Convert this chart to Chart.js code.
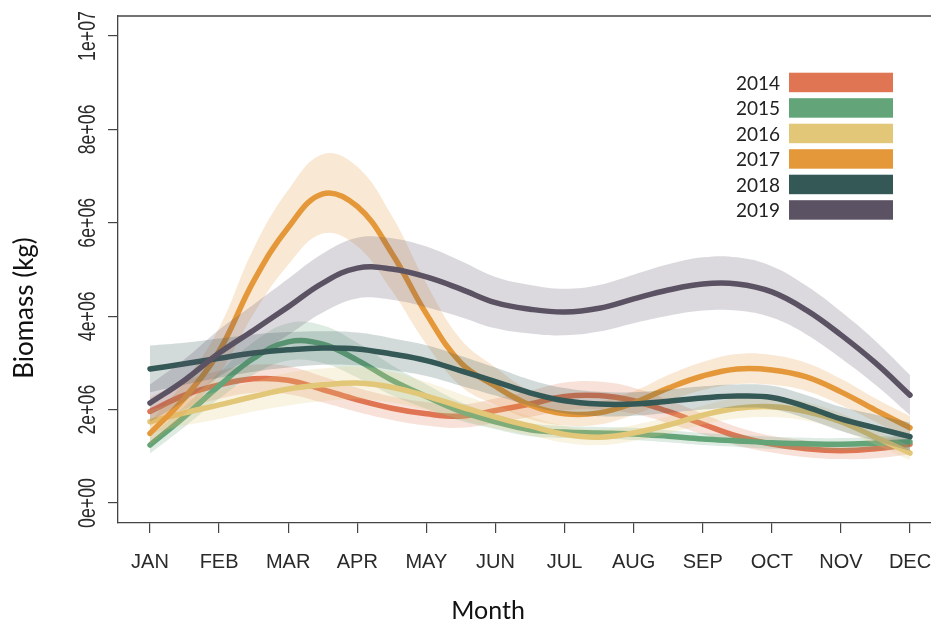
<!DOCTYPE html>
<html>
<head>
<meta charset="utf-8">
<script src="https://cdn.jsdelivr.net/npm/chart.js@4/dist/chart.umd.min.js"></script>
<style>
  html, body { margin: 0; padding: 0; background: #fff; overflow: hidden; }
  canvas { display: block; }
</style>
</head>
<body>
<canvas id="c" width="931" height="624"></canvas>
<script>
// month positions (half-month steps)
var months = [1, 1.5, 2, 2.5, 3, 3.5, 4, 4.5, 5, 5.5, 6, 6.5, 7, 7.5, 8, 8.5, 9, 9.5, 10, 10.5, 11, 11.5, 12];
var monthLabels = ['JAN', 'FEB', 'MAR', 'APR', 'MAY', 'JUN', 'JUL', 'AUG', 'SEP', 'OCT', 'NOV', 'DEC'];
var yTicks = [0, 2, 4, 6, 8, 10];
var yTickLabels = ['0e+00', '2e+06', '4e+06', '6e+06', '8e+06', '1e+07'];

var years = ['2014', '2015', '2016', '2017', '2018', '2019'];
var colors = ['#e07553', '#63a579', '#e2c778', '#e4983a', '#345856', '#5b5363'];

// biomass, millions of kg
var bio2014 = [1.96, 2.31, 2.53, 2.66, 2.63, 2.43, 2.21, 2.03, 1.91, 1.86, 1.98, 2.12, 2.28, 2.30, 2.19, 1.96, 1.69, 1.43, 1.26, 1.16, 1.12, 1.16, 1.26];
var bio2015 = [1.24, 1.85, 2.51, 3.10, 3.45, 3.40, 3.06, 2.63, 2.28, 1.96, 1.74, 1.57, 1.52, 1.50, 1.48, 1.43, 1.37, 1.33, 1.29, 1.27, 1.26, 1.28, 1.31];
var bio2016 = [1.74, 1.93, 2.10, 2.28, 2.44, 2.53, 2.57, 2.48, 2.29, 2.06, 1.84, 1.65, 1.47, 1.41, 1.50, 1.67, 1.88, 2.03, 2.06, 1.96, 1.74, 1.41, 1.07];
var bio2017 = [1.49, 2.25, 3.25, 4.75, 5.90, 6.62, 6.35, 5.35, 4.05, 3.00, 2.50, 2.10, 1.91, 1.93, 2.14, 2.46, 2.72, 2.87, 2.85, 2.70, 2.38, 1.99, 1.61];
var bio2018 = [2.87, 2.98, 3.10, 3.21, 3.28, 3.32, 3.30, 3.19, 3.05, 2.83, 2.60, 2.36, 2.19, 2.12, 2.12, 2.18, 2.25, 2.29, 2.26, 2.06, 1.80, 1.61, 1.42];
var bio2019 = [2.14, 2.63, 3.21, 3.70, 4.20, 4.71, 5.03, 5.01, 4.84, 4.58, 4.29, 4.15, 4.09, 4.17, 4.37, 4.56, 4.69, 4.69, 4.52, 4.13, 3.60, 3.00, 2.31];

// half width of the shaded band
var ci2014 = [0.30, 0.30, 0.30, 0.30, 0.30, 0.28, 0.26, 0.25, 0.25, 0.25, 0.26, 0.28, 0.30, 0.30, 0.28, 0.25, 0.22, 0.20, 0.18, 0.18, 0.18, 0.20, 0.22];
var ci2015 = [0.18, 0.22, 0.28, 0.35, 0.40, 0.40, 0.37, 0.32, 0.26, 0.20, 0.16, 0.14, 0.13, 0.13, 0.13, 0.13, 0.13, 0.13, 0.13, 0.13, 0.13, 0.14, 0.16];
var ci2016 = [0.25, 0.27, 0.30, 0.32, 0.35, 0.35, 0.35, 0.33, 0.30, 0.27, 0.24, 0.20, 0.18, 0.17, 0.17, 0.18, 0.20, 0.22, 0.22, 0.20, 0.18, 0.16, 0.15];
var ci2017 = [0.25, 0.35, 0.50, 0.70, 0.80, 0.85, 0.85, 0.80, 0.65, 0.50, 0.40, 0.30, 0.25, 0.25, 0.25, 0.28, 0.30, 0.32, 0.32, 0.30, 0.28, 0.25, 0.25];
var ci2018 = [0.50, 0.45, 0.42, 0.40, 0.38, 0.36, 0.35, 0.34, 0.33, 0.32, 0.30, 0.28, 0.27, 0.26, 0.25, 0.25, 0.25, 0.25, 0.25, 0.25, 0.26, 0.28, 0.30];
var ci2019 = [0.40, 0.45, 0.50, 0.55, 0.60, 0.63, 0.65, 0.66, 0.65, 0.60, 0.55, 0.52, 0.50, 0.50, 0.52, 0.55, 0.57, 0.57, 0.55, 0.52, 0.50, 0.47, 0.43];

var series = [bio2014, bio2015, bio2016, bio2017, bio2018, bio2019];
var bands = [ci2014, ci2015, ci2016, ci2017, ci2018, ci2019];

function hexA(hex, a) {
  var n = parseInt(hex.slice(1), 16);
  return 'rgba(' + (n >> 16) + ',' + ((n >> 8) & 255) + ',' + (n & 255) + ',' + a + ')';
}

var datasets = [];
years.forEach(function(yr, k) {
  var vals = series[k], ci = bands[k];
  var base = 100 - 10 * k;   // higher order is painted first
  datasets.push({
    label: yr + ' hi',
    data: months.map(function(m, i) { return { x: m, y: vals[i] + ci[i] }; }),
    borderWidth: 0, pointRadius: 0, fill: false, order: base, tension: 0.4
  });
  datasets.push({
    label: yr + ' lo',
    data: months.map(function(m, i) { return { x: m, y: vals[i] - ci[i] }; }),
    borderWidth: 0, pointRadius: 0, fill: '-1', order: base, tension: 0.4,
    backgroundColor: hexA(colors[k], 0.22)
  });
  datasets.push({
    label: yr,
    data: months.map(function(m, i) { return { x: m, y: vals[i] }; }),
    borderColor: colors[k], borderWidth: 5.5, borderCapStyle: 'round',
    pointRadius: 0, fill: false, order: base - 1, tension: 0.4
  });
});

var decor = {
  id: 'decor',
  afterDraw: function(chart) {
    var ctx = chart.ctx, a = chart.chartArea, ys = chart.scales.y;
    ctx.save();
    // top edge of the box
    ctx.strokeStyle = '#444';
    ctx.lineWidth = 1.3;
    ctx.beginPath();
    ctx.moveTo(a.left, a.top);
    ctx.lineTo(a.right + 2, a.top);
    ctx.stroke();

    // rotated y tick labels
    ctx.fillStyle = '#2a2a2a';
    ctx.font = '24px "Liberation Sans", Arial, sans-serif';
    ctx.textAlign = 'center';
    ctx.textBaseline = 'alphabetic';
    yTicks.forEach(function(v, i) {
      ctx.save();
      ctx.translate(95, ys.getPixelForValue(v));
      ctx.rotate(-Math.PI / 2);
      ctx.scale(0.74, 1);
      ctx.fillText(yTickLabels[i], 0, 0);
      ctx.restore();
    });

    // axis titles
    ctx.fillStyle = '#111';
    ctx.font = '25px Lato, sans-serif';
    ctx.fillText('Month', 488, 619);
    ctx.save();
    ctx.translate(33, 308);
    ctx.rotate(-Math.PI / 2);
    ctx.font = '26px Lato, sans-serif';
    ctx.fillText('Biomass (kg)', 0, 0);
    ctx.restore();

    // legend: year text then colour bar
    ctx.font = '19px Lato, sans-serif';
    ctx.textAlign = 'right';
    years.forEach(function(yr, k) {
      var y0 = 72.7 + k * 25.5;
      ctx.fillStyle = colors[k];
      ctx.fillRect(789, y0, 104, 19.5);
      ctx.fillStyle = '#222';
      ctx.fillText(yr, 780, y0 + 17);
    });
    ctx.restore();
  }
};

var chart = new Chart(document.getElementById('c'), {
  type: 'line',
  data: { datasets: datasets },
  options: {
    responsive: false,
    animation: false,
    devicePixelRatio: 1,
    layout: { padding: { top: 16, left: 0, right: 0, bottom: 0 } },
    plugins: { legend: { display: false }, tooltip: { enabled: false } },
    scales: {
      x: {
        type: 'linear',
        min: 0.5368, max: 12.304,
        afterBuildTicks: function(scale) {
          scale.ticks = monthLabels.map(function(l, i) { return { value: i + 1 }; });
        },
        afterFit: function(scale) {
          scale.height = 101;
          scale.paddingLeft = 0;
          scale.paddingRight = 0;   // let DEC run off the edge like the original
        },
        ticks: {
          autoSkip: false, maxRotation: 0, padding: 17, color: '#2a2a2a',
          font: { family: '"Liberation Sans", Arial, sans-serif', size: 20 },
          callback: function(v) { return monthLabels[v - 1]; }
        },
        grid: { drawOnChartArea: false, drawTicks: true, tickLength: 10, color: '#444', lineWidth: 1.2 },
        border: { display: true, color: '#444', width: 1.3 }
      },
      y: {
        type: 'linear',
        min: -0.428, max: 10.428,
        afterBuildTicks: function(scale) {
          scale.ticks = yTicks.map(function(v) { return { value: v }; });
        },
        afterFit: function(scale) { scale.width = 118; },
        ticks: { display: false },
        grid: { drawOnChartArea: false, drawTicks: true, tickLength: 10, color: '#444', lineWidth: 1.2 },
        border: { display: true, color: '#444', width: 1.3 }
      }
    }
  },
  plugins: [decor]
});
</script>
</body>
</html>
